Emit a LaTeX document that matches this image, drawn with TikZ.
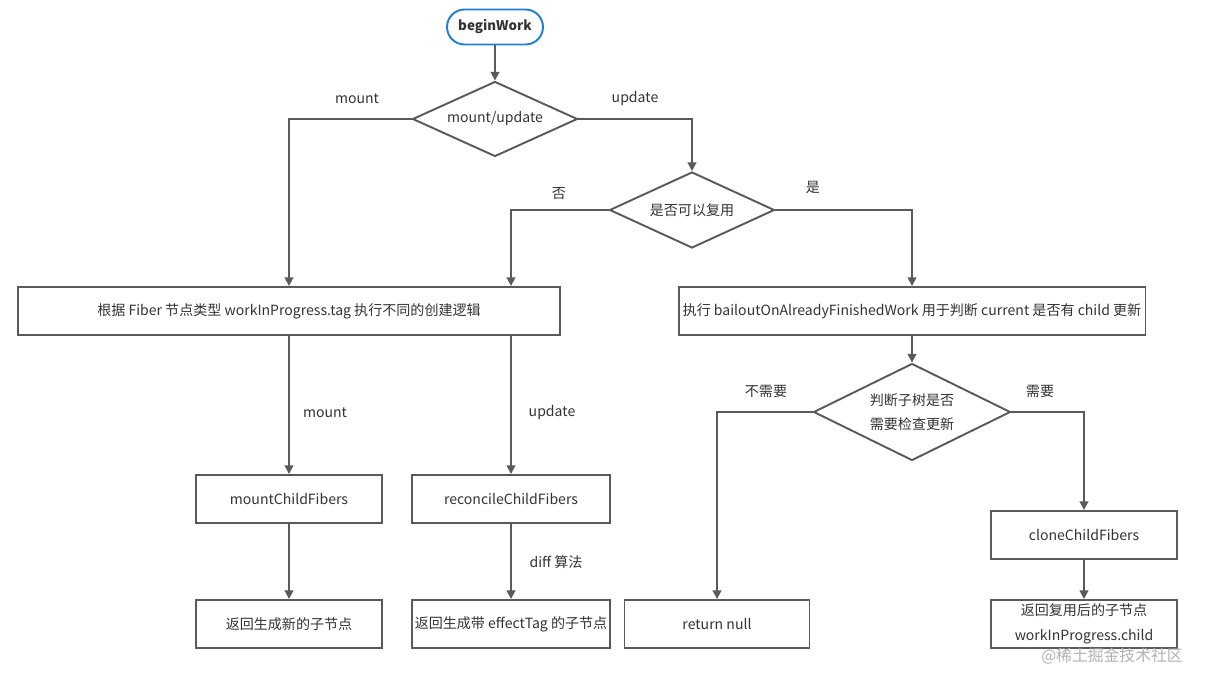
\documentclass[tikz,border=0pt]{standalone}
\usepackage{fontspec}
\setmainfont{Noto Sans CJK SC}
\usepackage{tikz}
\usetikzlibrary{shapes.geometric,arrows.meta}
\definecolor{lineg}{HTML}{5A5A5A}
\definecolor{textg}{HTML}{333333}
\definecolor{startblue}{HTML}{1E7FD8}
\tikzset{
  every node/.style={font=\fontsize{8}{9}\selectfont,text=textg},
  box/.style={draw=lineg,line width=1.1pt,minimum height=0.96cm,inner sep=0pt},
  cond/.style={diamond,draw=lineg,line width=1.1pt,inner sep=0pt,aspect=2.2},
  flow/.style={draw=lineg,line width=1.1pt,-{Triangle[length=5pt,width=5pt]}},
  lbl/.style={inner sep=1pt}
}
\begin{document}
\begin{tikzpicture}[x=0.02cm,y=-0.02cm]
        \useasboundingbox (0,0) rectangle (1210,675);
        \node[draw=startblue,line width=1.1pt,rounded corners=0.35cm,minimum width=1.92cm,minimum height=0.7cm,font=\fontsize{7.6}{9}\selectfont\bfseries] (bw) at (495,27) {beginWork};
        \node[cond,minimum width=3.3cm,minimum height=1.5cm] (mu) at (495,119) {mount/update};
        \node[cond,minimum width=3.3cm,minimum height=1.52cm] (reuse) at (692,210) {是否可以复用};
        \node[box,minimum width=10.84cm] (create) at (289,311) {根据 Fiber 节点类型 workInProgress.tag 执行不同的创建逻辑};
        \node[box,minimum width=9.34cm] (bailout) at (912,311) {执行 bailoutOnAlreadyFinishedWork 用于判断 current 是否有 child 更新};
        \node[cond,minimum width=3.94cm,minimum height=1.94cm,align=center,font=\fontsize{8}{14}\selectfont] (check) at (912,412) {判断子树是否\\需要检查更新};
        \node[box,minimum width=3.72cm] (mcf) at (289,499) {mountChildFibers};
        \node[box,minimum width=3.96cm] (rcf) at (511,499) {reconcileChildFibers};
        \node[box,minimum width=3.72cm] (newc) at (289,624) {返回生成新的子节点};
        \node[box,minimum width=3.96cm] (effc) at (511,624) {返回生成带 effectTag 的子节点};
        \node[box,minimum width=3.7cm] (rnull) at (717,624) {return null};
        \node[box,minimum width=3.72cm] (ccf) at (1084,535) {cloneChildFibers};
        \node[box,minimum width=3.72cm,align=center,font=\fontsize{8}{14}\selectfont] (reusec) at (1084,624) {返回复用后的子节点\\workInProgress.child};
        \draw[flow] (bw) -- (mu);
        \draw[flow] (mu.west) -| (create.north);
        \draw[flow] (mu.east) -| (reuse.north);
        \draw[flow] (reuse.west) -| (rcf |- create.north);
        \draw[flow] (reuse.east) -| (bailout.north);
        \draw[flow] (create) -- (mcf);
        \draw[flow] (create.south -| rcf) -- (rcf);
        \draw[flow] (mcf) -- (newc);
        \draw[flow] (rcf) -- (effc);
        \draw[flow] (bailout) -- (check);
        \draw[flow] (check.west) -| (rnull.north);
        \draw[flow] (check.east) -| (ccf.north);
        \draw[flow] (ccf) -- (reusec);
        \node[lbl] (lmount) at (357,99) {mount};
        \node[lbl] (lupdate) at (635,99) {update};
        \node[lbl] (lno) at (559,194) {否};
        \node[lbl] (lyes) at (813,187) {是};
        \node[lbl] (lmount2) at (325,413) {mount};
        \node[lbl] (lupdate2) at (552,413) {update};
        \node[lbl] (ldiff) at (556,562) {diff 算法};
        \node[lbl] (lnoneed) at (766,391) {不需要};
        \node[lbl] (lneed) at (1040,391) {需要};
        \node[lbl,text=black!30,font=\fontsize{9}{10}\selectfont] (wm) at (1112,656) {@稀土掘金技术社区};
    \end{tikzpicture}
\end{document}
